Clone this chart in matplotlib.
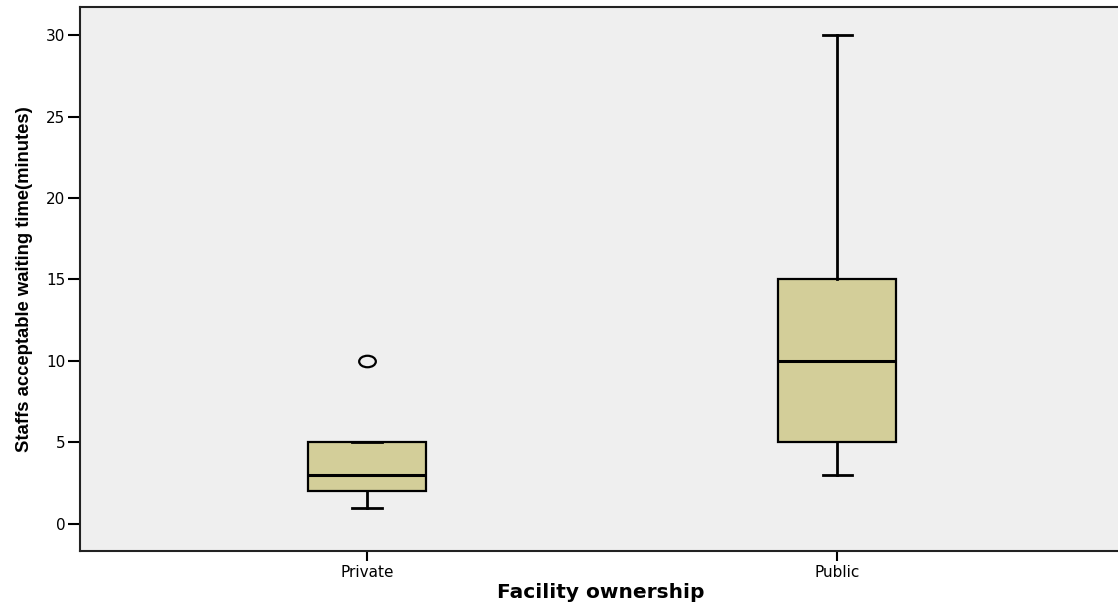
import numpy as np
import matplotlib
matplotlib.use("Agg")
import matplotlib.pyplot as plt
from matplotlib.path import Path
from matplotlib.transforms import Affine2D

# box statistics (minutes)
groups = ["Private", "Public"]
whislo = [1, 3]
q1 = [2, 5]
med = [3, 10]
q3 = [5, 15]
whishi = [5, 30]
fliers = [[10], []]
yticks = [0, 5, 10, 15, 20, 25, 30]

plt.rcParams["font.family"] = ["DejaVu Sans"]

fig = plt.figure(figsize=(11.18, 6.05), dpi=100)
ax = fig.add_axes([80 / 1118, 54 / 605, 1042 / 1118, 544 / 605])
ax.set_facecolor("#efefef")

stats = [dict(label=g, whislo=lo, q1=a, med=m, q3=b, whishi=hi, fliers=f)
         for g, lo, a, m, b, hi, f in zip(groups, whislo, q1, med, q3, whishi, fliers)]

ellipse = Path.unit_circle().transformed(Affine2D().scale(1.45, 1.0))
ax.bxp(stats, positions=[1, 2], widths=0.251, patch_artist=True,
       capwidths=0.062,
       boxprops=dict(facecolor="#d3ce99", edgecolor="black", linewidth=1.6),
       medianprops=dict(color="black", linewidth=2.2),
       whiskerprops=dict(color="black", linewidth=2.0),
       capprops=dict(color="black", linewidth=2.0),
       flierprops=dict(marker=ellipse, markersize=12, markerfacecolor="none",
                       markeredgecolor="black", markeredgewidth=1.6))

ax.set_xlim(0.3894, 2.606)
ax.set_ylim(-1.66, 31.72)
ax.set_yticks(yticks)
ax.set_yticklabels([str(t) for t in yticks], fontsize=11)
ax.set_xticks([1, 2])
ax.set_xticklabels(groups, fontsize=11)
ax.tick_params(axis="y", length=8.5, width=1.5, pad=2)
ax.tick_params(axis="x", length=7, width=1.5, pad=3)
for s in ax.spines.values():
    s.set_linewidth(1.5)
    s.set_color("#222222")

ax.set_xlabel("Facility ownership", fontsize=14.5, fontweight="bold", labelpad=2)
ax.set_ylabel("Staffs acceptable waiting time(minutes)", fontsize=13.3,
              fontweight="bold", family="Liberation Sans")
ax.yaxis.set_label_coords(-47 / 1042, 0.5)

fig.savefig("out.png", dpi=100)
